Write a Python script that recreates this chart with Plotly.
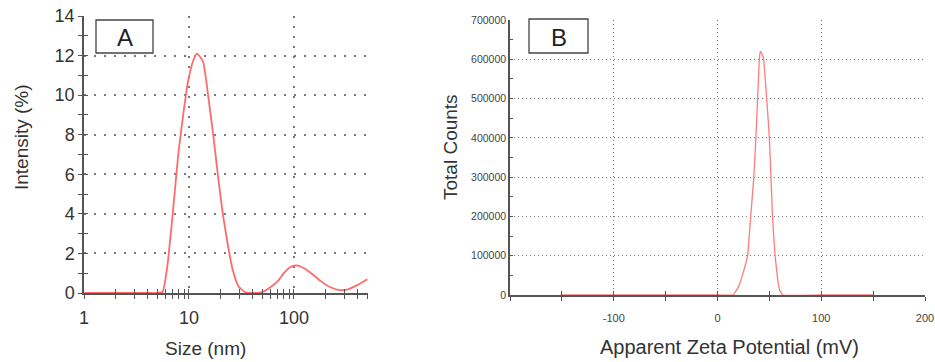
import plotly.graph_objects as go

# ---- Panel A data: size distribution by intensity ----
size_nm = [1, 2, 3, 4, 5, 5.6, 6.2, 7.0, 7.9, 8.8, 9.8, 10.9, 11.9, 13.6, 15.2, 17, 19, 21,
           23.5, 26, 29.5, 34, 40, 50, 60, 70, 80, 92, 105, 125, 150, 180, 220, 270, 320, 400, 500]
intensity = [0, 0, 0, 0, 0, 0.05, 1.3, 4.0, 7.0, 9.0, 10.7, 11.7, 12.1, 11.7, 10.0, 8.0, 5.8, 4.0,
             2.4, 1.2, 0.35, 0.05, 0, 0.05, 0.3, 0.6, 1.0, 1.3, 1.4, 1.25, 0.95, 0.6, 0.3, 0.15, 0.17, 0.4, 0.7]

# ---- Panel B data: zeta potential distribution ----
zeta_mv = [-150, -100, -50, 0, 15, 20, 24, 29, 32, 35, 37, 38.7, 40.3, 41.3, 43.5, 44.5,
           50, 53, 55.5, 58, 60, 63, 100, 150]
counts = [0, 0, 0, 0, 0, 20000, 50000, 100000, 200000, 300000, 400000, 500000, 600000, 620000,
          610000, 600000, 400000, 200000, 100000, 40000, 12000, 0, 0, 0]

x_ticks_a = [1, 10, 100]
x_labels_a = ["1", "10", "100"]
x_minor_a = [2, 3, 4, 5, 6, 7, 8, 9, 20, 30, 40, 50, 60, 70, 80, 90, 200, 300, 400, 500]
x_ticks_b = [-100, 0, 100, 200]
x_labels_b = ["-100", "0", "100", "200"]

W, H = 935, 362
def px(x):
    return x / W
def py(y):
    return 1 - y / H

DOM_XA = [px(84), px(368)]
DOM_YA = [py(293), py(16)]
DOM_XB = [px(510), px(925)]
DOM_YB = [py(295), py(20)]
RANGE_XA = [0, 2.705]
RANGE_YA = [0, 14]
RANGE_XB = [-200, 200]
RANGE_YB = [0, 700000]

fig = go.Figure()
fig.add_trace(go.Scatter(x=size_nm, y=intensity, mode="lines", xaxis="x", yaxis="y",
                         line=dict(color="#ff6b6b", width=1.8, shape="spline", smoothing=0.5),
                         showlegend=False, cliponaxis=False, hoverinfo="skip"))
fig.add_trace(go.Scatter(x=zeta_mv, y=counts, mode="lines", xaxis="x2", yaxis="y2",
                         line=dict(color="#ff7c7c", width=1.3, shape="spline", smoothing=0.3),
                         showlegend=False, cliponaxis=False, hoverinfo="skip"))

axcol = "#555555"
gridcol = "#7a7a7a"
font_a = dict(family="Liberation Sans, Arial, sans-serif", size=18, color="#333333")
font_b = dict(family="Liberation Sans, Arial, sans-serif", size=11, color="#444444")

common = dict(zeroline=False, fixedrange=True, automargin=False)

fig.update_layout(
    width=W, height=H, margin=dict(l=0, r=0, t=0, b=0),
    paper_bgcolor="white", plot_bgcolor="white", showlegend=False,
    xaxis=dict(domain=DOM_XA, type="log", range=RANGE_XA, anchor="y", layer="below traces",
               tickmode="array", tickvals=x_ticks_a, ticktext=x_labels_a,
               showgrid=True, gridcolor=gridcol, griddash="1.5px,8.5px", gridwidth=1.5,
               showline=True, linecolor=axcol, linewidth=1.5,
               ticks="outside", ticklen=4, tickcolor=axcol, tickfont=font_a, ticklabelstandoff=4,
               minor=dict(tickmode="array", tickvals=x_minor_a, ticks="outside", ticklen=4,
                          tickcolor=axcol, showgrid=False), **common),
    yaxis=dict(domain=DOM_YA, range=RANGE_YA, anchor="x",
               tickmode="linear", tick0=0, dtick=2,
               showgrid=True, gridcolor=gridcol, griddash="1.5px,8.5px", gridwidth=1.5,
               showline=True, linecolor=axcol, linewidth=1.5,
               ticks="outside", ticklen=4, tickcolor=axcol, tickfont=font_a,
               minor=dict(dtick=1, ticks="outside", ticklen=4, tickcolor=axcol, showgrid=False), **common),
    xaxis2=dict(domain=DOM_XB, range=RANGE_XB, anchor="y2", layer="below traces",
                tickmode="array", tickvals=x_ticks_b, ticktext=x_labels_b,
                showgrid=True, gridcolor=gridcol, griddash="1px,3px", gridwidth=1,
                showline=True, linecolor=axcol, linewidth=1.5,
                ticks="outside", ticklen=4, tickcolor=axcol, tickfont=font_b, ticklabelstandoff=8,
                minor=dict(dtick=50, tick0=-200, ticks="outside", ticklen=4, tickcolor=axcol, showgrid=False),
                **common),
    yaxis2=dict(domain=DOM_YB, range=RANGE_YB, anchor="x2",
                tickmode="linear", tick0=0, dtick=100000, tickformat="d",
                showgrid=True, gridcolor=gridcol, griddash="1px,3px", gridwidth=1,
                showline=True, linecolor=axcol, linewidth=1.5,
                ticks="inside", ticklen=3, tickcolor=axcol, tickfont=dict(font_b, size=10.5),
                minor=dict(dtick=50000, ticks="inside", ticklen=3, tickcolor=axcol, showgrid=False), **common),
    # overlay axes drawing the inner half of the crossing tick marks
    xaxis3=dict(domain=DOM_XA, type="log", range=RANGE_XA, anchor="y", overlaying="x",
                tickmode="array", tickvals=x_ticks_a, showticklabels=False, showgrid=False,
                showline=False, ticks="inside", ticklen=4, tickcolor=axcol,
                minor=dict(tickmode="array", tickvals=x_minor_a, ticks="inside", ticklen=4,
                           tickcolor=axcol, showgrid=False), **common),
    yaxis3=dict(domain=DOM_YA, range=RANGE_YA, anchor="x", overlaying="y",
                tickmode="linear", tick0=0, dtick=2, showticklabels=False, showgrid=False,
                showline=False, ticks="inside", ticklen=4, tickcolor=axcol,
                minor=dict(dtick=1, ticks="inside", ticklen=4, tickcolor=axcol, showgrid=False), **common),
    xaxis4=dict(domain=DOM_XB, range=RANGE_XB, anchor="y2", overlaying="x2",
                tickmode="array", tickvals=x_ticks_b, showticklabels=False, showgrid=False,
                showline=False, ticks="inside", ticklen=4, tickcolor=axcol,
                minor=dict(dtick=50, tick0=-200, ticks="inside", ticklen=4, tickcolor=axcol, showgrid=False),
                **common),
)

# empty traces so the overlay axes are drawn
fig.add_trace(go.Scatter(x=[], y=[], xaxis="x3", yaxis="y", showlegend=False))
fig.add_trace(go.Scatter(x=[], y=[], xaxis="x", yaxis="y3", showlegend=False))
fig.add_trace(go.Scatter(x=[], y=[], xaxis="x4", yaxis="y2", showlegend=False))

title_font = dict(family="Liberation Sans, Arial, sans-serif", size=19, color="#333333")
ann = [
    dict(text="Intensity (%)", x=px(21), y=py(137), textangle=-90, size=19),
    dict(text="Size (nm)", x=px(205), y=py(348), textangle=0, size=19),
    dict(text="Total Counts", x=px(450), y=py(147), textangle=-90, size=19),
    dict(text="Apparent Zeta Potential (mV)", x=px(729), y=py(347), textangle=0, size=20),
]
for a in ann:
    size = a.pop("size")
    fig.add_annotation(xref="paper", yref="paper", showarrow=False, font=dict(title_font, size=size),
                       xanchor="center", yanchor="middle", **a)

for label, x0, x1, y0, y1 in [("A", 96, 153, 20, 53), ("B", 529, 588, 19, 53)]:
    fig.add_shape(type="rect", xref="paper", yref="paper", x0=px(x0), x1=px(x1), y0=py(y1), y1=py(y0),
                  line=dict(color="#444444", width=1.3), fillcolor="white", layer="above")
    fig.add_annotation(xref="paper", yref="paper", x=px((x0 + x1) / 2), y=py((y0 + y1) / 2 + 1),
                       text=label, showarrow=False, xanchor="center", yanchor="middle",
                       font=dict(family="Liberation Sans, Arial, sans-serif", size=24, color="#222222"))

fig.write_html("out.html", config={"displayModeBar": False},
               post_script="document.body.style.margin='0';document.body.style.overflow='hidden';")
